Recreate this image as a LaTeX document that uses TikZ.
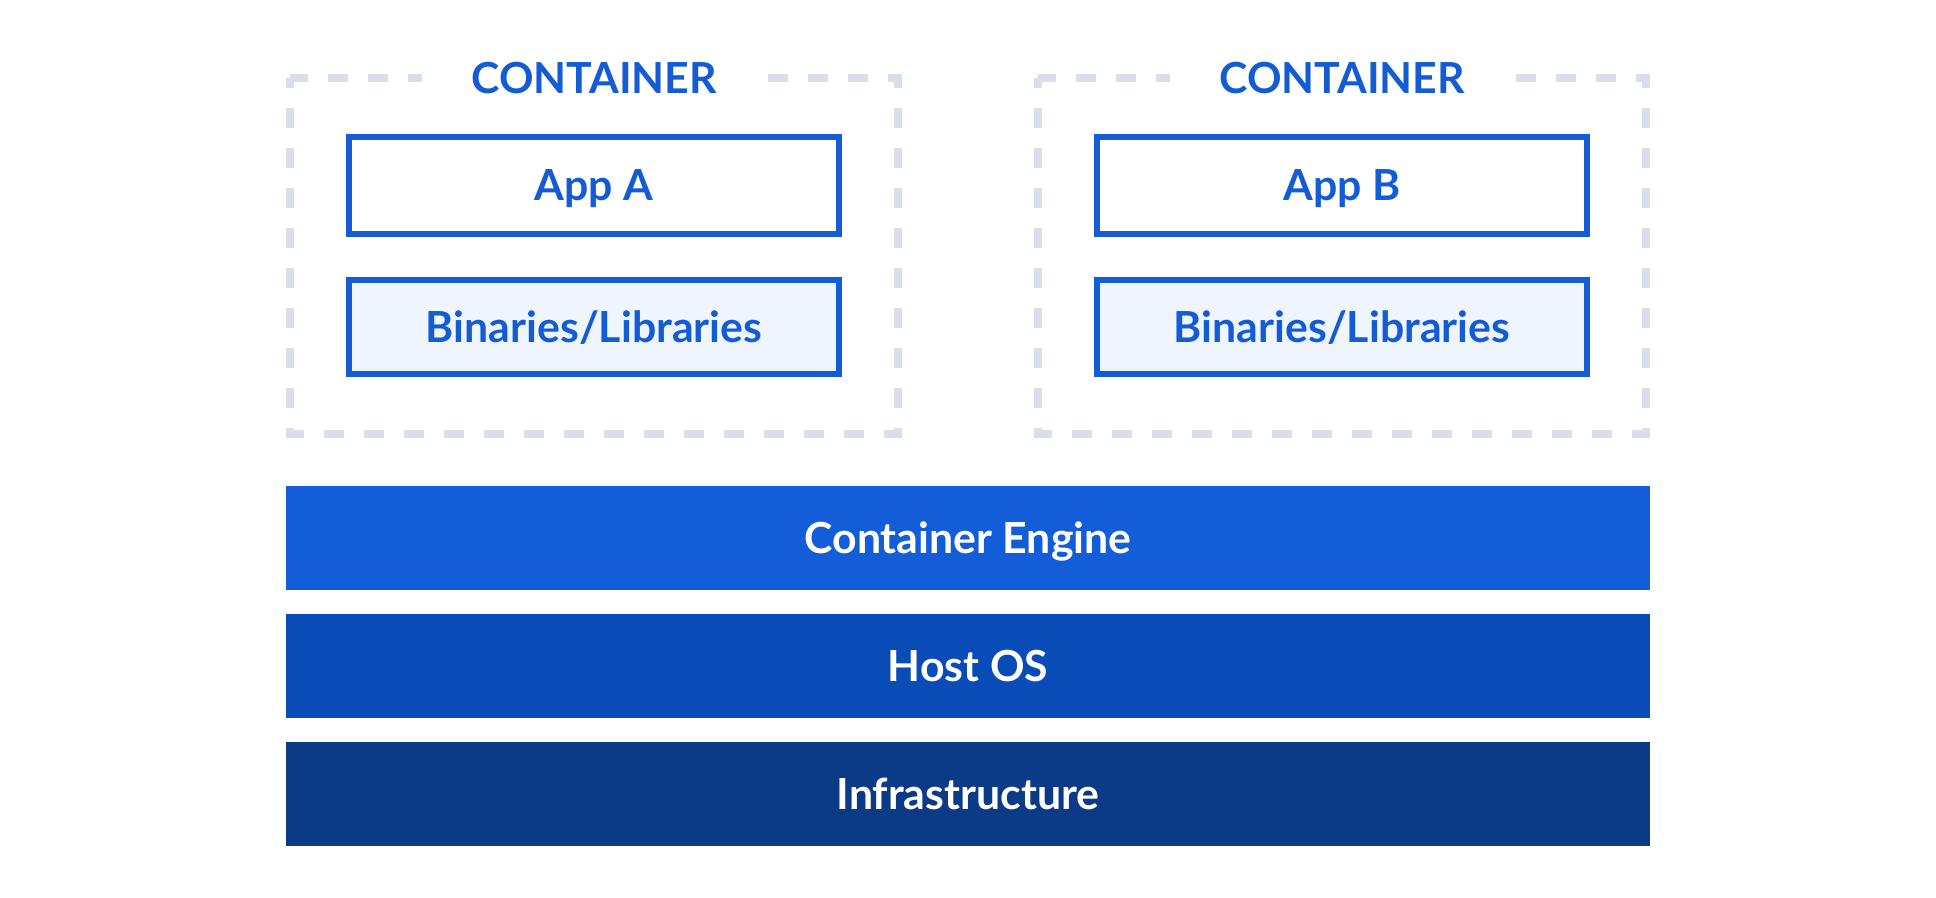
\documentclass[tikz,border=0pt]{standalone}
\usepackage{fontspec}
\setmainfont{Lato}

\definecolor{appblue}{HTML}{135CD6}
\definecolor{libfill}{HTML}{EFF5FE}
\definecolor{dashgray}{HTML}{D8DEEC}
\definecolor{engineblue}{HTML}{135DD8}
\definecolor{hostblue}{HTML}{094BB7}
\definecolor{infrablue}{HTML}{0B3A87}

\tikzset{
  boxdash/.style={draw=dashgray, line width=4pt, dash pattern=on 10pt off 10pt, dash phase=5pt},
  boxlabel/.style={fill=white, text=appblue, inner sep=0pt, minimum width=172pt, minimum height=12pt, text height=15.3pt, text depth=0pt},
  appbox/.style={draw=appblue, line width=3pt, text=appblue, inner sep=0pt, minimum width=245pt, minimum height=48.5pt, text height=15.3pt, text depth=0pt},
  libbox/.style={appbox, fill=libfill, minimum height=47pt},
  layer/.style={fill=#1, text=white, inner sep=0pt, minimum width=682pt, minimum height=52pt, text height=15.3pt, text depth=0pt}
}

\begin{document}
\begin{tikzpicture}[x=0.5pt,y=-0.5pt,font=\fontsize{21.4}{25}\selectfont\bfseries]
  \useasboundingbox (0,0) rectangle (1936,898);
  % container A
  \draw [boxdash] (290,78) rectangle (898,434);
  \node [boxlabel] (labelA) at (594,78) {CONTAINER};
  \node [appbox] (appA) at (594,185.5) {App A};
  \node [libbox] (libA) at (594,327) {Binaries/Libraries};
  % container B
  \draw [boxdash] (1038,78) rectangle (1646,434);
  \node [boxlabel] (labelB) at (1342,78) {CONTAINER};
  \node [appbox] (appB) at (1342,185.5) {App B};
  \node [libbox] (libB) at (1342,327) {Binaries/Libraries};
  % layers
  \node [layer=engineblue] (engine) at (968,538) {Container Engine};
  \node [layer=hostblue] (host) at (968,666) {Host OS};
  \node [layer=infrablue] (infra) at (968,794) {Infrastructure};
\end{tikzpicture}
\end{document}
